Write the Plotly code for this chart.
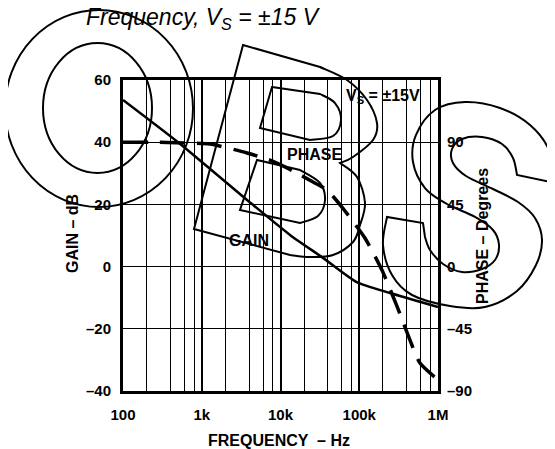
import plotly.graph_objects as go

# gain curve (solid), left axis
gain_freq = [100, 500, 4350, 13200, 34700, 93000, 246000, 1000000]
gain_db = [53.6, 40.0, 20.1, 10.2, 2.8, -5.0, -8.5, -13.0]

# phase curve (dashed), right axis
phase_freq = [100, 220, 610, 1270, 3760, 7800, 14400, 25900, 38900, 60300,
              118000, 194000, 301000, 441000, 590000, 1000000]
phase_deg = [90, 90, 89.5, 88.7, 82.2, 76.5, 69.2, 61.2, 55.4, 43.1,
             20.7, -2.5, -28.6, -53.2, -69.8, -82.0]

freq_ticks = [100, 1000, 10000, 100000, 1000000]
freq_labels = ["100", "1k", "10k", "100k", "1M"]
minor_freqs = [m * 10 ** d for d in range(2, 6) for m in (2, 4, 6, 8)]

gain_ticks = [-40, -20, 0, 20, 40, 60]
gain_labels = ["–40", "–20", "0", "20", "40", "60"]
phase_ticks = [-90, -45, 0, 45, 90]
phase_labels = ["–90", "–45", "0", "45", "90"]

# ---- page geometry, in window pixels (the page body has an 8px margin) ----
PAD = 8
WIN_W, WIN_H = 555, 449
L, R, T, B = 123, 438, 80, 391
FONT = "Liberation Sans"


def pp(x, y):
    return (x - L) / (R - L), (B - y) / (B - T)


def ps(p):
    x, y = pp(*p)
    return f"{x:.4f},{y:.4f}"


def curve(points):
    # catmull-rom through the points, as cubic bezier segments
    pts = [points[0]] + points + [points[-1]]
    s = ""
    for i in range(1, len(pts) - 2):
        p0, p1, p2, p3 = pts[i - 1], pts[i], pts[i + 1], pts[i + 2]
        c1 = (p1[0] + (p2[0] - p0[0]) / 6, p1[1] + (p2[1] - p0[1]) / 6)
        c2 = (p2[0] - (p3[0] - p1[0]) / 6, p2[1] - (p3[1] - p1[1]) / 6)
        s += f" C {ps(c1)} {ps(c2)} {ps(p2)}"
    return s


fig = go.Figure()

fig.add_trace(go.Scatter(
    x=gain_freq, y=gain_db, mode="lines",
    line=dict(color="black", width=2.5, shape="spline", smoothing=0.6),
    yaxis="y", showlegend=False
))

fig.add_trace(go.Scatter(
    x=phase_freq, y=phase_deg, mode="lines",
    line=dict(color="black", width=3.5, dash="25px,12px", shape="spline", smoothing=0.6),
    yaxis="y2", showlegend=False
))

shapes = []

# white boxes behind in-plot labels (hide grid lines)
for x0, y0, x1, y1 in [(343, 82, 425, 110), (283, 142, 347, 164), (222, 226, 276, 253)]:
    a = pp(x0, y1)
    b = pp(x1, y0)
    shapes.append(dict(type="rect", xref="paper", yref="paper",
                       x0=a[0], y0=a[1], x1=b[0], y1=b[1],
                       fillcolor="white", line=dict(width=0), layer="between"))

# "OBS" watermark outline
wm = dict(color="black", width=2)
for x0, y0, x1, y1 in [(5, 10, 193, 207), (43, 43, 152, 173)]:
    a = pp(x0, y1)
    b = pp(x1, y0)
    shapes.append(dict(type="circle", xref="paper", yref="paper",
                       x0=a[0], y0=a[1], x1=b[0], y1=b[1],
                       line=wm, layer="above"))

b_outer = ("M " + ps((194, 229)) + " L " + ps((243, 45)) + " L " + ps((320, 67))
           + curve([(320, 67), (347, 80), (367, 100), (377, 123), (373, 140), (353, 157), (340, 163)])
           + curve([(340, 163), (357, 177), (365, 203), (360, 225), (353, 242), (333, 255),
                    (310, 257), (290, 255)])
           + " L " + ps((194, 229)) + " Z")
b_upper = ("M " + ps((272, 87)) + " L " + ps((320, 94))
           + curve([(320, 94), (335, 103), (341, 120), (333, 136), (310, 140)])
           + " L " + ps((260, 128)) + " Z")
b_lower = ("M " + ps((257, 160)) + " L " + ps((240, 210)) + " L " + ps((300, 223))
           + curve([(300, 223), (318, 216), (325, 200), (320, 183), (300, 170)])
           + " L " + ps((257, 160)) + " Z")
s_path = ("M " + ps((555, 183))
          + curve([(555, 183), (549, 150), (530, 125), (500, 108), (465, 102), (435, 110),
                   (416, 135), (413, 162), (425, 188), (447, 204), (475, 217), (493, 230),
                   (499, 245), (495, 260), (482, 269), (462, 272), (443, 264), (430, 250),
                   (425, 237)])
          + " L " + ps((423, 223)) + " L " + ps((387, 217))
          + curve([(387, 217), (383, 245), (392, 275), (412, 295), (450, 306), (485, 307),
                   (517, 291), (536, 265), (542, 240), (535, 218), (518, 202), (493, 189),
                   (466, 176), (453, 163), (452, 149), (462, 139), (482, 137), (502, 144),
                   (513, 158), (517, 175)])
          + " Z")
for p in [b_outer, b_upper, b_lower, s_path]:
    shapes.append(dict(type="path", xref="paper", yref="paper", path=p,
                       line=wm, layer="above"))

bold = dict(family=FONT, size=15, color="black", weight="bold")
label_font = dict(family=FONT, size=16, color="black", weight="bold")


def note(text, x, y, font, angle=0, xanchor="center"):
    px_, py_ = pp(x, y)
    return dict(text=text, x=px_, y=py_, xref="paper", yref="paper",
                showarrow=False, font=font, textangle=angle,
                xanchor=xanchor, yanchor="middle")


annotations = [
    note("<i>Frequency, V<sub>S</sub> = ±15 V</i>", 84, 18,
         dict(family=FONT, size=23, color="black"), xanchor="left"),
    note("GAIN – dB", 72, 234, label_font, angle=-90),
    note("PHASE – Degrees", 482, 236, label_font, angle=-90),
    note("FREQUENCY  – Hz", 279, 440, label_font),
    note("V<sub>S</sub> = ±15V", 383, 96, label_font),
    note("PHASE", 314, 154, label_font),
    note("GAIN", 249, 241, label_font),
]

fig.update_layout(
    width=WIN_W - PAD, height=WIN_H - PAD,
    margin=dict(l=L - PAD, r=WIN_W - R, t=T - PAD, b=WIN_H - B),
    paper_bgcolor="white", plot_bgcolor="white",
    shapes=shapes, annotations=annotations,
    xaxis=dict(
        type="log", range=[2, 6],
        tickvals=freq_ticks, ticktext=freq_labels,
        showgrid=True, gridcolor="black", gridwidth=2,
        minor=dict(tickvals=minor_freqs, showgrid=True, gridcolor="black", gridwidth=1.2),
        showline=True, linecolor="black", linewidth=3, mirror=True,
        ticks="", tickfont=bold, ticklabelstandoff=8, zeroline=False,
    ),
    yaxis=dict(
        range=[-40, 60], tickvals=gain_ticks, ticktext=gain_labels,
        showgrid=True, gridcolor="black", gridwidth=1.3,
        showline=True, linecolor="black", linewidth=3, mirror=True,
        ticks="", tickfont=bold, ticklabelstandoff=6, zeroline=False,
    ),
    yaxis2=dict(
        overlaying="y", side="right", range=[-90, 135],
        tickvals=phase_ticks, ticktext=phase_labels,
        showgrid=False, zeroline=False, showline=False,
        ticks="", tickfont=bold, ticklabelstandoff=8,
    ),
)

fig.write_html("out.html")
